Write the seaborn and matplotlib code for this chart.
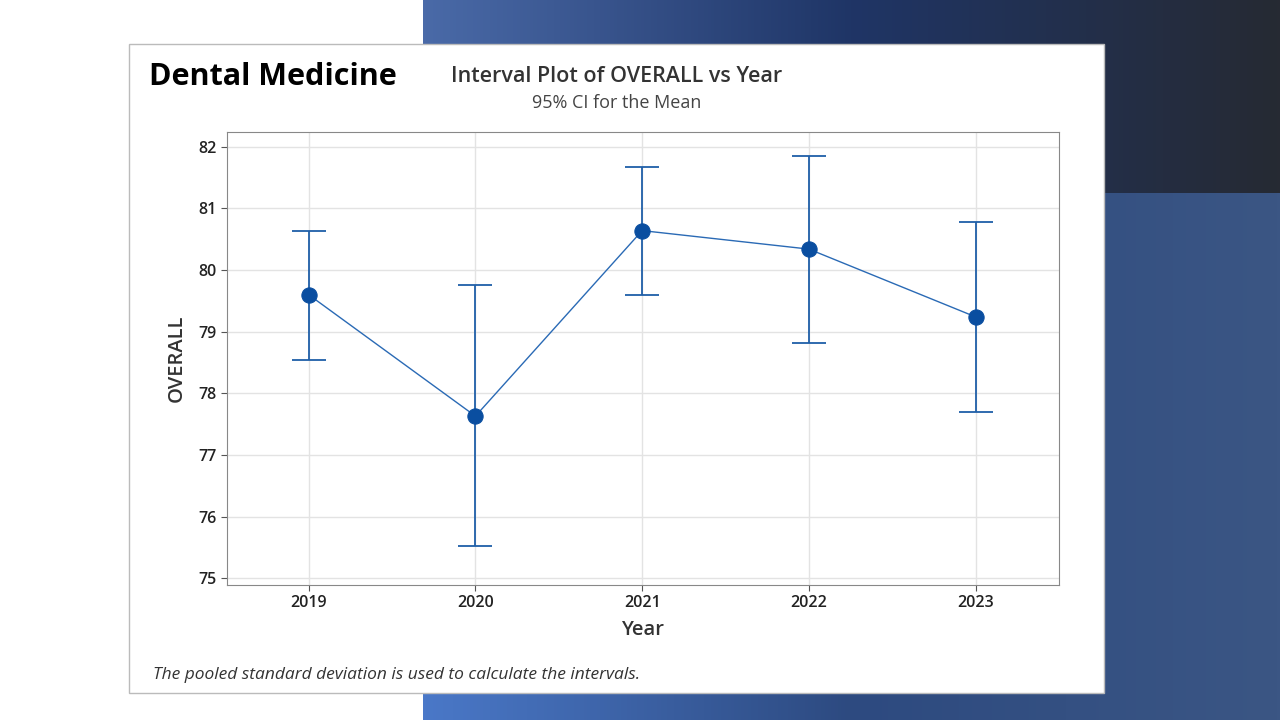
import numpy as np
import pandas as pd
import matplotlib
matplotlib.use("Agg")
import matplotlib.pyplot as plt
import seaborn as sns

# data
years = ["2019", "2020", "2021", "2022", "2023"]
means = [79.60, 77.63, 80.64, 80.34, 79.24]
upper = [80.64, 79.76, 81.68, 81.85, 80.78]
lower = [78.54, 75.52, 79.60, 78.82, 77.70]

sns.set_style("white")
plt.rcParams['font.family'] = ['Open Sans', 'DejaVu Sans']

fig = plt.figure(figsize=(12.8, 7.2), dpi=100)

# slide background
bg = fig.add_axes([0, 0, 1, 1], zorder=0)
bg.axis("off")
bg.set_xlim(0, 1280); bg.set_ylim(720, 0)
grad = np.linspace(0, 1, 256).reshape(1, -1)
cmap_top = matplotlib.colors.LinearSegmentedColormap.from_list("t", ["#4a6aa8", "#1f3566", "#262a33"])
cmap_bot = matplotlib.colors.LinearSegmentedColormap.from_list("b", ["#4a78c8", "#2d4a80", "#3b5684"])
bg.imshow(grad, extent=[423, 1280, 193, 0], cmap=cmap_top, aspect="auto")
bg.imshow(grad, extent=[423, 1280, 720, 193], cmap=cmap_bot, aspect="auto")
bg.add_patch(plt.Rectangle((129, 44), 975, 649, facecolor="white", edgecolor="#bbbbbb", lw=1))

fig.text(149/1280, 1 - 77/720, "Dental Medicine", fontsize=22, fontweight="bold",
         color="black", va="center", zorder=3)
fig.text(617/1280, 1 - 77/720, "Interval Plot of OVERALL vs Year", fontsize=15.5,
         fontweight="semibold", color="#333333", ha="center", va="center", zorder=3)
fig.text(617/1280, 1 - 103/720, "95% CI for the Mean", fontsize=13,
         color="#444444", ha="center", va="center", zorder=3)
fig.text(153/1280, 1 - 675/720, "The pooled standard deviation is used to calculate the intervals.",
         fontsize=12.5, style="italic", color="#333333", va="center", zorder=3)

ax = fig.add_axes([227/1280, 135/720, 832/1280, 453/720], zorder=2)
df = pd.DataFrame({"Year": years, "OVERALL": means})
x = np.arange(len(years))
m = np.array(means)
ax.errorbar(x, m, yerr=[m - np.array(lower), np.array(upper) - m], fmt="none",
            ecolor="#1f5fa8", elinewidth=1.3, capsize=12, capthick=1.3, zorder=3)
sns.lineplot(x=x, y=df["OVERALL"], ax=ax, color="#2a6ab5", lw=1, marker="o",
             markersize=11, markerfacecolor="#0a4ea0", markeredgecolor="#0a4ea0", zorder=4)

ax.set_xticks(x)
ax.set_xticklabels(years)
ax.set_xlim(-0.49, 4.5)
ax.set_ylim(74.89, 82.24)
ax.set_yticks(range(75, 83))
ax.grid(True, color="#e3e3e3", lw=1)
ax.tick_params(axis="both", labelsize=11.5, length=4, left=True, bottom=True,
               color="#555555", labelcolor="#222222")
for lab in ax.get_xticklabels() + ax.get_yticklabels():
    lab.set_fontweight("semibold")
ax.set_xlabel("Year", fontsize=14.5, fontweight="semibold", color="#333333", labelpad=6)
ax.set_ylabel("OVERALL", fontsize=14.5, fontweight="semibold", color="#333333", labelpad=8)
for s in ax.spines.values():
    s.set_color("#888888")

fig.savefig("out.png", dpi=100)
